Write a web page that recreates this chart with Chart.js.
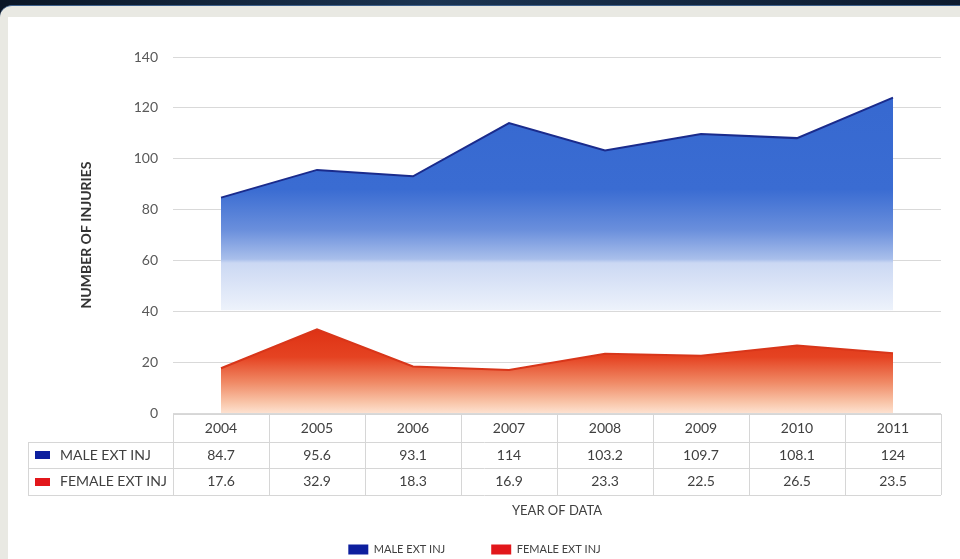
<!DOCTYPE html>
<html lang="en">
<head>
<meta charset="utf-8">
<title>Number of injuries by year of data</title>
<script src="https://cdn.jsdelivr.net/npm/chart.js@4.4.1/dist/chart.umd.min.js"></script>
<style>
  html, body { margin: 0; padding: 0; }
  body {
    width: 960px; height: 559px; overflow: hidden; position: relative;
    background: linear-gradient(to right, #0a1626, #1b3452 45%, #0c1a2e);
  }
  .frame {
    position: absolute; left: 0; top: 5px; right: 0; bottom: 0;
    background: #e9e9e3; border-top-left-radius: 12px; border-top: 1px solid #3c5f8a;
  }
  .panel { position: absolute; left: 8px; top: 17px; right: 0; bottom: 0; background: #fff; }
  #chart { position: absolute; left: 0; top: 0; }
</style>
</head>
<body>
<div class="frame"></div>
<div class="panel"></div>
<canvas id="chart" width="960" height="559"></canvas>
<script>
// --- DATA ---
const years = ['2004', '2005', '2006', '2007', '2008', '2009', '2010', '2011'];
const maleInjuries = [84.7, 95.6, 93.1, 114, 103.2, 109.7, 108.1, 124];
const femaleInjuries = [17.6, 32.9, 18.3, 16.9, 23.3, 22.5, 26.5, 23.5];
const seriesNames = ['MALE EXT INJ', 'FEMALE EXT INJ'];
const yMin = 0;
const yMax = 140;
const yStep = 20;

// --- STYLE ---
const FONT = 'Lato';
const TEXT = '#404040';
const keyColors = ['#0d1f9e', '#e2171b'];
const lineColors = ['#1a2b8c', '#d8361a'];
// [value, colour] stops for the fades under each line
const maleFade = [[140, '#3567cf'], [88, '#3a6cd2'], [72, '#6a8fdc'], [60.5, '#a9bfeb'], [59, '#cbd8f3'], [40.6, '#edf2fb'], [40, 'rgba(255,255,255,0)'], [0, 'rgba(255,255,255,0)']];
const femaleFade = [[36, '#dc2d10'], [22, '#e54322'], [12, '#f08a66'], [4, '#f9c6aa'], [0, '#fde1d0']];

function fade(stops) {
    return (context) => {
        const { ctx, chartArea, scales } = context.chart;
        if (!chartArea) return null;
        const top = scales.y.getPixelForValue(yMax);
        const bottom = scales.y.getPixelForValue(yMin);
        const g = ctx.createLinearGradient(0, top, 0, bottom);
        stops.forEach(([v, c]) => g.addColorStop((yMax - v) / (yMax - yMin), c));
        return g;
    };
}

// --- DATA TABLE UNDER THE AXIS ---
const dataTable = {
    id: 'dataTable',
    afterDraw(chart) {
        const { ctx, chartArea, scales: { x } } = chart;
        const colW = (x.right - x.left) / years.length;
        const top = chartArea.bottom + 1;
        const edges = [top, top + 28, top + 54, top + 81];
        const labelLeft = 28;
        const series = [maleInjuries, femaleInjuries];

        ctx.save();
        ctx.strokeStyle = '#d6d6d6';
        ctx.lineWidth = 1;
        ctx.beginPath();
        ctx.moveTo(x.left, edges[0] + 0.5);
        ctx.lineTo(x.right, edges[0] + 0.5);
        for (let r = 1; r < edges.length; r++) {
            ctx.moveTo(labelLeft, edges[r] + 0.5);
            ctx.lineTo(x.right, edges[r] + 0.5);
        }
        for (let i = 0; i <= years.length; i++) {
            const px = Math.round(x.left + i * colW) + 0.5;
            ctx.moveTo(px, edges[0]);
            ctx.lineTo(px, edges[3]);
        }
        ctx.moveTo(labelLeft + 0.5, edges[1]);
        ctx.lineTo(labelLeft + 0.5, edges[3]);
        ctx.stroke();

        ctx.font = `14px ${FONT}`;
        ctx.fillStyle = TEXT;
        ctx.textAlign = 'center';
        ctx.textBaseline = 'middle';
        years.forEach((yr, i) => {
            const cx = x.getPixelForValue(i);
            ctx.fillText(yr, cx, (edges[0] + edges[1]) / 2);
            series.forEach((s, k) => ctx.fillText(String(s[i]), cx, (edges[k + 1] + edges[k + 2]) / 2));
        });

        ctx.textAlign = 'left';
        seriesNames.forEach((name, k) => {
            const cy = (edges[k + 1] + edges[k + 2]) / 2;
            ctx.fillStyle = keyColors[k];
            ctx.fillRect(35, Math.round(cy) - 4, 15, 8);
            ctx.fillStyle = TEXT;
            ctx.fillText(name, 60, cy);
        });
        ctx.restore();
    }
};

// --- CHART ---
const ctx = document.getElementById('chart').getContext('2d');
new Chart(ctx, {
    type: 'line',
    data: {
        labels: years,
        datasets: [
            { label: seriesNames[0], data: maleInjuries, borderColor: lineColors[0], borderWidth: 2, backgroundColor: fade(maleFade), fill: 'origin', pointRadius: 0, tension: 0 },
            { label: seriesNames[1], data: femaleInjuries, borderColor: lineColors[1], borderWidth: 2, backgroundColor: fade(femaleFade), fill: 'origin', pointRadius: 0, tension: 0 }
        ]
    },
    options: {
        responsive: false,
        animation: false,
        devicePixelRatio: 1,
        layout: { padding: { left: 8, top: 57, right: 19, bottom: -6 } },
        scales: {
            x: {
                offset: true,
                grid: { display: false },
                border: { display: false },
                ticks: { display: false },
                title: { display: true, text: 'YEAR OF DATA', color: TEXT, font: { family: FONT, size: 13 }, padding: { top: 0, bottom: -21 } },
                afterFit: (s) => { s.height = 85; }
            },
            y: {
                min: yMin,
                max: yMax,
                grid: { color: '#d9d9d9', drawTicks: false },
                border: { display: false },
                ticks: { stepSize: yStep, padding: 15, color: '#595959', font: { family: FONT, size: 14 } },
                title: { display: true, text: 'NUMBER OF INJURIES', color: '#333', font: { family: FONT, size: 14, weight: 'bold' }, padding: { top: 70, bottom: 0 } },
                afterFit: (s) => { s.width = 165; }
            }
        },
        plugins: {
            legend: {
                position: 'bottom',
                labels: {
                    boxWidth: 20,
                    boxHeight: 10,
                    padding: 46,
                    color: TEXT,
                    font: { family: FONT, size: 11 },
                    generateLabels: (chart) => Chart.defaults.plugins.legend.labels.generateLabels(chart)
                        .map((l, i) => ({ ...l, fillStyle: keyColors[i], strokeStyle: keyColors[i], lineWidth: 0 }))
                }
            },
            tooltip: { enabled: false }
        }
    },
    plugins: [dataTable]
});
</script>
</body>
</html>
